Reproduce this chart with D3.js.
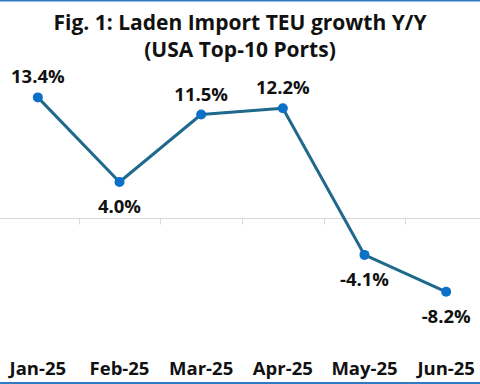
<!DOCTYPE html>
<html>
<head>
<meta charset="utf-8">
<script src="https://cdn.jsdelivr.net/npm/d3@7"></script>
<style>
  body { margin: 0; background: #fff; }
  svg { display: block; font-family: "Open Sans", "Noto Sans", sans-serif; }
</style>
</head>
<body>
<svg id="chart" width="480" height="384"></svg>
<script>
  // data
  var months = ["Jan-25", "Feb-25", "Mar-25", "Apr-25", "May-25", "Jun-25"];
  var growth = [13.4, 4.0, 11.5, 12.2, -4.1, -8.2];
  var labelPos = ["above", "below", "above", "above", "below", "below"];
  var titleLines = ["Fig. 1: Laden Import TEU growth Y/Y", "(USA Top-10 Ports)"];

  var svg = d3.select("#chart"),
      width = +svg.attr("width"),
      height = +svg.attr("height");

  var x = d3.scaleBand().domain(months).range([-3, 487]);
  var y = d3.scaleLinear().domain([-10, 15]).range([308, 83]);

  // frame lines top and bottom
  svg.append("line").attr("x1", 0).attr("x2", width).attr("y1", 0.5).attr("y2", 0.5)
    .attr("stroke", "#2e7bc4").attr("stroke-width", 2);
  svg.append("line").attr("x1", 0).attr("x2", width).attr("y1", 383).attr("y2", 383)
    .attr("stroke", "#2e7bc4").attr("stroke-width", 2);

  // title
  svg.append("g").selectAll("text")
    .data(titleLines)
    .enter().append("text")
    .attr("x", width / 2)
    .attr("y", function(d, i) { return 30 + i * 27; })
    .attr("text-anchor", "middle")
    .attr("font-size", 21)
    .attr("font-weight", "bold")
    .attr("fill", "#111")
    .text(function(d) { return d; });

  // zero axis with category boundary ticks
  var y0 = Math.round(y(0)) + 0.5;
  svg.append("line").attr("x1", 0).attr("x2", width).attr("y1", y0).attr("y2", y0)
    .attr("stroke", "#d9d9d9").attr("stroke-width", 1);
  svg.append("g").selectAll("line")
    .data(months.slice(1))
    .enter().append("line")
    .attr("x1", function(d) { return Math.round(x(d)) + 0.5; })
    .attr("x2", function(d) { return Math.round(x(d)) + 0.5; })
    .attr("y1", y0).attr("y2", y0 + 6)
    .attr("stroke", "#d9d9d9").attr("stroke-width", 1);

  // x labels at bottom
  svg.append("g").selectAll("text")
    .data(months)
    .enter().append("text")
    .attr("x", function(d) { return x(d) + x.bandwidth() / 2; })
    .attr("y", 375)
    .attr("text-anchor", "middle")
    .attr("font-size", 18.5)
    .attr("font-weight", "bold")
    .attr("fill", "#111")
    .text(function(d) { return d; });

  var pts = months.map(function(m, i) {
    return { m: m, v: growth[i], pos: labelPos[i] };
  });

  var line = d3.line()
    .x(function(d) { return x(d.m) + x.bandwidth() / 2; })
    .y(function(d) { return y(d.v); });

  svg.append("path")
    .datum(pts)
    .attr("d", line)
    .attr("fill", "none")
    .attr("stroke", "#1f6a8c")
    .attr("stroke-width", 3)
    .attr("stroke-linejoin", "round");

  svg.append("g").selectAll("circle")
    .data(pts)
    .enter().append("circle")
    .attr("cx", function(d) { return x(d.m) + x.bandwidth() / 2; })
    .attr("cy", function(d) { return y(d.v); })
    .attr("r", 5)
    .attr("fill", "#0a70c8");

  svg.append("g").selectAll("text")
    .data(pts)
    .enter().append("text")
    .attr("x", function(d) { return x(d.m) + x.bandwidth() / 2; })
    .attr("y", function(d) { return d.pos === "above" ? y(d.v) - 14 : y(d.v) + 31; })
    .attr("text-anchor", "middle")
    .attr("font-size", 18.5)
    .attr("font-weight", "bold")
    .attr("fill", "#111")
    .text(function(d) { return d.v.toFixed(1) + "%"; });
</script>
</body>
</html>
